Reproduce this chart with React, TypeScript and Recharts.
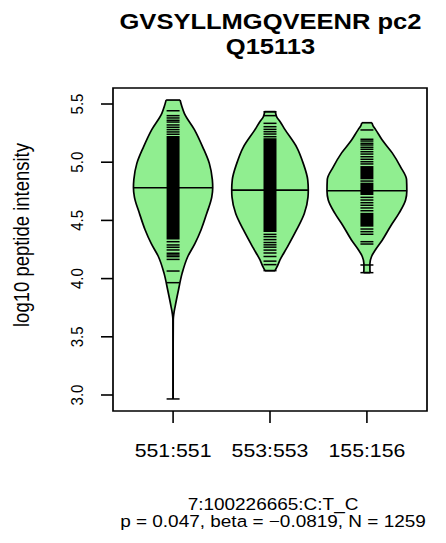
import { Area, ComposedChart, ReferenceArea, ReferenceLine, XAxis, YAxis } from "recharts"

const titleLines = ["GVSYLLMGQVEENR pc2", "Q15113"]
const xLabel = "7:100226665:C:T_C"
const subLabel = "p = 0.047, beta = \u22120.0819, N = 1259"
const yLabel = "log10 peptide intensity"

const groupLabels = ["551:551", "553:553", "155:156"]
const groupPos = [1, 2, 3]
const yTicks = [3.0, 3.5, 4.0, 4.5, 5.0, 5.5]

// bean outline: value levels and half width of the density at each level
const levels1 = [2.966, 3.3, 3.65, 3.7, 3.76, 3.9, 4.045, 4.19, 4.3, 4.42, 4.56, 4.7, 4.78, 4.85, 4.99, 5.13, 5.28, 5.42, 5.48, 5.534]
const widths1 = [0, 0, 0.002, 0.008, 0.021, 0.055, 0.093, 0.152, 0.225, 0.289, 0.347, 0.399, 0.409, 0.405, 0.374, 0.306, 0.22, 0.116, 0.09, 0.072]

const levels2 = [4.068, 4.1, 4.16, 4.27, 4.42, 4.56, 4.7, 4.76, 4.85, 4.99, 5.13, 5.28, 5.35, 5.39, 5.434]
const widths2 = [0.052, 0.072, 0.103, 0.178, 0.275, 0.354, 0.392, 0.395, 0.389, 0.343, 0.275, 0.155, 0.103, 0.069, 0.055]

const levels3 = [4.051, 4.074, 4.13, 4.19, 4.25, 4.33, 4.45, 4.56, 4.675, 4.755, 4.85, 4.96, 5.08, 5.19, 5.28, 5.31, 5.339]
const widths3 = [0.034, 0.031, 0.031, 0.048, 0.09, 0.158, 0.244, 0.33, 0.399, 0.412, 0.409, 0.347, 0.261, 0.158, 0.09, 0.065, 0.052]

const medians = [4.78, 4.76, 4.755]

// single observations (bean lines) and ranges where they merge into solid black
const beans1 = [2.966, 3.965, 4.065, 4.165, 4.189, 4.203, 4.218, 4.246, 4.269, 4.289, 4.317, 5.24, 5.26, 5.28, 5.3, 5.32, 5.345, 5.36, 5.38, 5.4, 5.442]
const bands1 = [[4.335, 5.225]]

const beans2 = [4.068, 4.12, 4.15, 4.19, 4.22, 4.245, 4.27, 4.29, 4.31, 4.335, 4.36, 4.38, 5.219, 5.242, 5.262, 5.282, 5.305, 5.334, 5.4, 5.434]
const bands2 = [[4.4, 5.205]]

const beans3 = [4.051, 4.117, 4.297, 4.317, 4.381, 4.403, 4.426, 4.583, 4.607, 4.63, 4.652, 4.675, 4.698, 4.838, 4.985, 5.004, 5.025, 5.047, 5.07, 5.09, 5.111, 5.128, 5.148, 5.162, 5.182, 5.197, 5.277]
const bands3 = [[4.446, 4.565], [4.718, 4.824], [4.853, 4.967]]

const violins = [
  { levels: levels1, widths: widths1, beans: beans1, bands: bands1 },
  { levels: levels2, widths: widths2, beans: beans2, bands: bands2 },
  { levels: levels3, widths: widths3, beans: beans3, bands: bands3 },
]

const allLevels = Array.from(new Set(violins.flatMap((vi) => vi.levels))).sort((a, b) => b - a)
const rows = allLevels.map((v) => {
  const row: Record<string, number | null> = { v }
  violins.forEach((vi, k) => {
    const i = vi.levels.indexOf(v)
    row["w" + k] = i >= 0 ? vi.widths[i] : null
  })
  return row
})

const W = 438
const H = 535
const SX = 1.15
const BEAN = 0.067
const font = "'Liberation Sans', Arial, Helvetica, sans-serif"

function XTick(props: any) {
  const { x, y, payload } = props
  const label = groupLabels[groupPos.indexOf(payload.value)]
  return (
    <text transform={`translate(${x},${y + 28}) scale(${SX},1)`} textAnchor="middle" fontSize={18.5} fill="#000" fontFamily={font}>
      {label}
    </text>
  )
}

function YTick(props: any) {
  const { x, y, payload } = props
  return (
    <text transform={`translate(${x - 12},${y}) scale(${SX},1) rotate(-90)`} textAnchor="middle" fontSize={15} fill="#000" fontFamily={font}>
      {Number(payload.value).toFixed(1)}
    </text>
  )
}

export default function App() {
  return (
    <div style={{ position: "relative", width: W, height: H, fontFamily: font }}>
      <ComposedChart layout="vertical" width={W} height={H} data={rows} margin={{ top: 80, right: 19, bottom: 72, left: 55 }}>
        <XAxis
          type="number"
          domain={[0.38, 3.62]}
          ticks={groupPos}
          interval={0}
          allowDataOverflow
          height={60}
          tickSize={12}
          tickMargin={6}
          axisLine={false}
          tickLine={{ stroke: "#000", strokeWidth: 1.6 }}
          tick={XTick}
        />
        <YAxis
          type="number"
          dataKey="v"
          domain={[2.8625, 5.6375]}
          ticks={yTicks}
          interval={0}
          reversed
          allowDataOverflow
          width={50}
          tickSize={12}
          tickMargin={6}
          axisLine={false}
          tickLine={{ stroke: "#000", strokeWidth: 1.6 }}
          tick={YTick}
        />
        {violins.map((vi, k) => (
          <Area
            key={"a" + k}
            type="monotone"
            dataKey={(r: any) => (r["w" + k] == null ? [null, null] : [groupPos[k] - r["w" + k], groupPos[k] + r["w" + k]])}
            fill="#90EE90"
            fillOpacity={1}
            stroke="#000"
            strokeWidth={1.7}
            connectNulls
            dot={false}
            activeDot={false}
            isAnimationActive={false}
          />
        ))}
        {violins.map((vi, k) =>
          [0, vi.levels.length - 1].map((i) => (
            <ReferenceLine
              key={`cap${k}-${i}`}
              segment={[
                { x: groupPos[k] - vi.widths[i], y: vi.levels[i] },
                { x: groupPos[k] + vi.widths[i], y: vi.levels[i] },
              ]}
              stroke="#000"
              strokeWidth={1.7}
              ifOverflow="visible"
            />
          ))
        )}
        {violins.map((vi, k) =>
          vi.bands.map((b, j) => (
            <ReferenceArea
              key={`band${k}-${j}`}
              x1={groupPos[k] - BEAN}
              x2={groupPos[k] + BEAN}
              y1={b[0]}
              y2={b[1]}
              fill="#000"
              fillOpacity={1}
              stroke="none"
              ifOverflow="visible"
            />
          ))
        )}
        {violins.map((vi, k) =>
          vi.beans.map((b, j) => (
            <ReferenceLine
              key={`bean${k}-${j}`}
              segment={[
                { x: groupPos[k] - BEAN, y: b },
                { x: groupPos[k] + BEAN, y: b },
              ]}
              stroke="#000"
              strokeWidth={1.5}
              ifOverflow="visible"
            />
          ))
        )}
        {violins.map((vi, k) => {
          const i = vi.levels.indexOf(medians[k])
          return (
            <ReferenceLine
              key={"med" + k}
              segment={[
                { x: groupPos[k] - vi.widths[i], y: medians[k] },
                { x: groupPos[k] + vi.widths[i], y: medians[k] },
              ]}
              stroke="#000"
              strokeWidth={1.6}
              ifOverflow="visible"
            />
          )
        })}
        <ReferenceArea x1={0.38} x2={3.62} y1={2.8625} y2={5.6375} fill="none" stroke="#000" strokeWidth={1.7} ifOverflow="visible" />
      </ComposedChart>
      <svg width={W} height={H} style={{ position: "absolute", left: 0, top: 0, pointerEvents: "none" }}>
        <g fontFamily={font} fill="#000">
          <text transform={`translate(262.5,21) scale(${SX},1)`} textAnchor="middle" fontSize={22.2} fontWeight="bold">
            {titleLines[0]}
          </text>
          <text transform={`translate(262.5,46) scale(${SX},1)`} textAnchor="middle" fontSize={22.2} fontWeight="bold">
            {titleLines[1]}
          </text>
          <text transform={`translate(20.5,227) scale(${SX},1) rotate(-90)`} textAnchor="middle" fontSize={18.5}>
            {yLabel}
          </text>
          <text transform={`translate(265,502) scale(${SX},1)`} textAnchor="middle" fontSize={16.5}>
            {xLabel}
          </text>
          <text transform={`translate(265,519) scale(${SX},1)`} textAnchor="middle" fontSize={16.5}>
            {subLabel}
          </text>
        </g>
      </svg>
    </div>
  )
}
